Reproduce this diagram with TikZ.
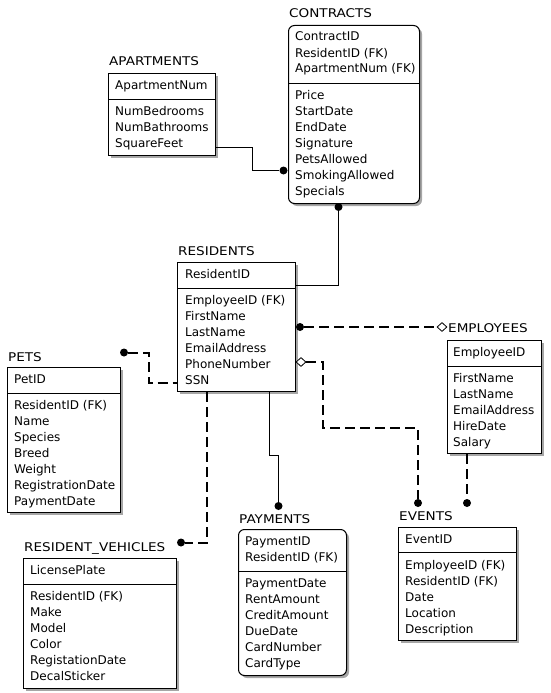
\documentclass[tikz,border=0pt]{standalone}
\usepackage{fontspec}
\setmainfont{DejaVu Sans}
\newfontfamily\titlefont[FakeStretch=1.13]{DejaVu Sans}
\usetikzlibrary{calc,shapes.geometric}

% entity box: name, left, top, right, bottom, divider y, extra style
\newcommand\erbox[7]{%
  \fill[shadowfill,#7] (#2+3,#3+3) rectangle (#4+3,#5+3);
  \node[entity,#7,minimum width=#4-#2,minimum height=#5-#3] (#1) at (#2,#3) {};
  \draw[rule] (#1.west |- 0,#6) -- (#1.east |- 0,#6);
}
% column of attribute names: name prefix, x, first baseline, list
\newcommand\fieldrows[4]{%
  \foreach \t [count=\i] in {#4}
    \node[field] (#1-\i) at (#2,#3+16*\i-16) {\t};
}

\begin{document}
\begin{tikzpicture}[x=1pt,y=-1pt,
  entity/.style={draw,line width=1pt,fill=white,inner sep=0pt,anchor=north west},
  softcorners/.style={rounded corners=6pt},
  shadowfill/.style={fill=gray!70},
  rule/.style={line width=1pt},
  field/.style={inner sep=0pt,anchor=base west,font=\fontsize{12}{14}\selectfont},
  etitle/.style={inner sep=0pt,anchor=base west,font=\titlefont\fontsize{12}{14}\selectfont},
  solidrel/.style={line width=1pt},
  dashedrel/.style={line width=2pt,dash pattern=on 10pt off 5pt},
  enddot/.style={circle,fill=black,inner sep=0pt,minimum size=8pt},
  enddiam/.style={diamond,draw,fill=white,line width=0.8pt,inner sep=0pt,minimum width=10pt,minimum height=9pt},
]
\useasboundingbox (0,0) rectangle (551,693);

% APARTMENTS
\erbox{apt}{108}{73}{215}{155}{99}{}
\node[etitle] (apt-title) at (109,66) {APARTMENTS};
\fieldrows{apt-k}{115}{89}{ApartmentNum}
\fieldrows{apt-a}{115}{115}{NumBedrooms,NumBathrooms,SquareFeet}

% CONTRACTS
\erbox{con}{288}{25}{419}{203}{83}{softcorners}
\node[etitle] (con-title) at (289,18) {CONTRACTS};
\fieldrows{con-k}{295}{41}{ContractID,ResidentID (FK),ApartmentNum (FK)}
\fieldrows{con-a}{295}{99}{Price,StartDate,EndDate,Signature,PetsAllowed,SmokingAllowed,Specials}

% RESIDENTS
\erbox{res}{177}{262}{295}{391}{288}{}
\node[etitle] (res-title) at (178,255) {RESIDENTS};
\fieldrows{res-k}{185}{278}{ResidentID}
\fieldrows{res-a}{185}{304}{EmployeeID (FK),FirstName,LastName,EmailAddress,PhoneNumber,SSN}

% PETS
\erbox{pet}{7}{367}{120}{512}{393}{}
\node[etitle] (pet-title) at (8,361) {PETS};
\fieldrows{pet-k}{14}{383}{PetID}
\fieldrows{pet-a}{14}{409}{ResidentID (FK),Name,Species,Breed,Weight,RegistrationDate,PaymentDate}

% RESIDENT_VEHICLES
\erbox{veh}{23}{558}{176}{688}{584}{}
\node[etitle] (veh-title) at (24,551) {RESIDENT\_VEHICLES};
\fieldrows{veh-k}{30}{574}{LicensePlate}
\fieldrows{veh-a}{30}{600}{ResidentID (FK),Make,Model,Color,RegistationDate,DecalSticker}

% PAYMENTS
\erbox{pay}{238}{529}{346}{675}{571}{softcorners}
\node[etitle] (pay-title) at (239,523) {PAYMENTS};
\fieldrows{pay-k}{245}{545}{PaymentID,ResidentID (FK)}
\fieldrows{pay-a}{245}{587}{PaymentDate,RentAmount,CreditAmount,DueDate,CardNumber,CardType}

% EVENTS
\erbox{evt}{398}{527}{516}{640}{552}{}
\node[etitle] (evt-title) at (399,520) {EVENTS};
\fieldrows{evt-k}{405}{543}{EventID}
\fieldrows{evt-a}{405}{569}{EmployeeID (FK),ResidentID (FK),Date,Location,Description}

% EMPLOYEES
\erbox{emp}{447}{340}{541}{453}{366}{}
\node[etitle] (emp-title) at (448,332) {EMPLOYEES};
\fieldrows{emp-k}{453}{356}{EmployeeID}
\fieldrows{emp-a}{453}{382}{FirstName,LastName,EmailAddress,HireDate,Salary}

% relationship ends
\node[enddot] (d-ac) at (283.5,170.5) {};
\node[enddot] (d-rc) at (338.5,207) {};
\node[enddot] (d-re) at (300,327) {};
\node[enddiam] (m-re) at (442,327) {};
\node[enddiam] (m-rv) at (301,362) {};
\node[enddot] (d-rv) at (418,503) {};
\node[enddot] (d-ev) at (467,503) {};
\node[enddot] (d-rp) at (278.5,506) {};
\node[enddot] (d-rpt) at (124,352.5) {};
\node[enddot] (d-rve) at (181,542.5) {};

% relationships
\draw[solidrel] (apt.east |- 0,147) -- (252,147) -- (252,170.5) -- (d-ac);
\draw[solidrel] (d-rc) -- (338.5,285) -- (res.east |- 0,285);
\draw[dashedrel] (d-re) -- (m-re);
\draw[dashedrel] (m-rv) -- (323,362) -- (323,428) -- (418,428) -- (d-rv);
\draw[dashedrel] (emp.south -| 467,0) -- (d-ev);
\draw[solidrel] (res.south -| 269,0) -- (269,455) -- (278.5,455) -- (d-rp);
\draw[dashedrel] (d-rpt) -- (148.5,352.5) -- (148.5,383) -- (res.west |- 0,383);
\draw[dashedrel] (res.south -| 207,0) -- (207,542.5) -- (d-rve);
\end{tikzpicture}
\end{document}
